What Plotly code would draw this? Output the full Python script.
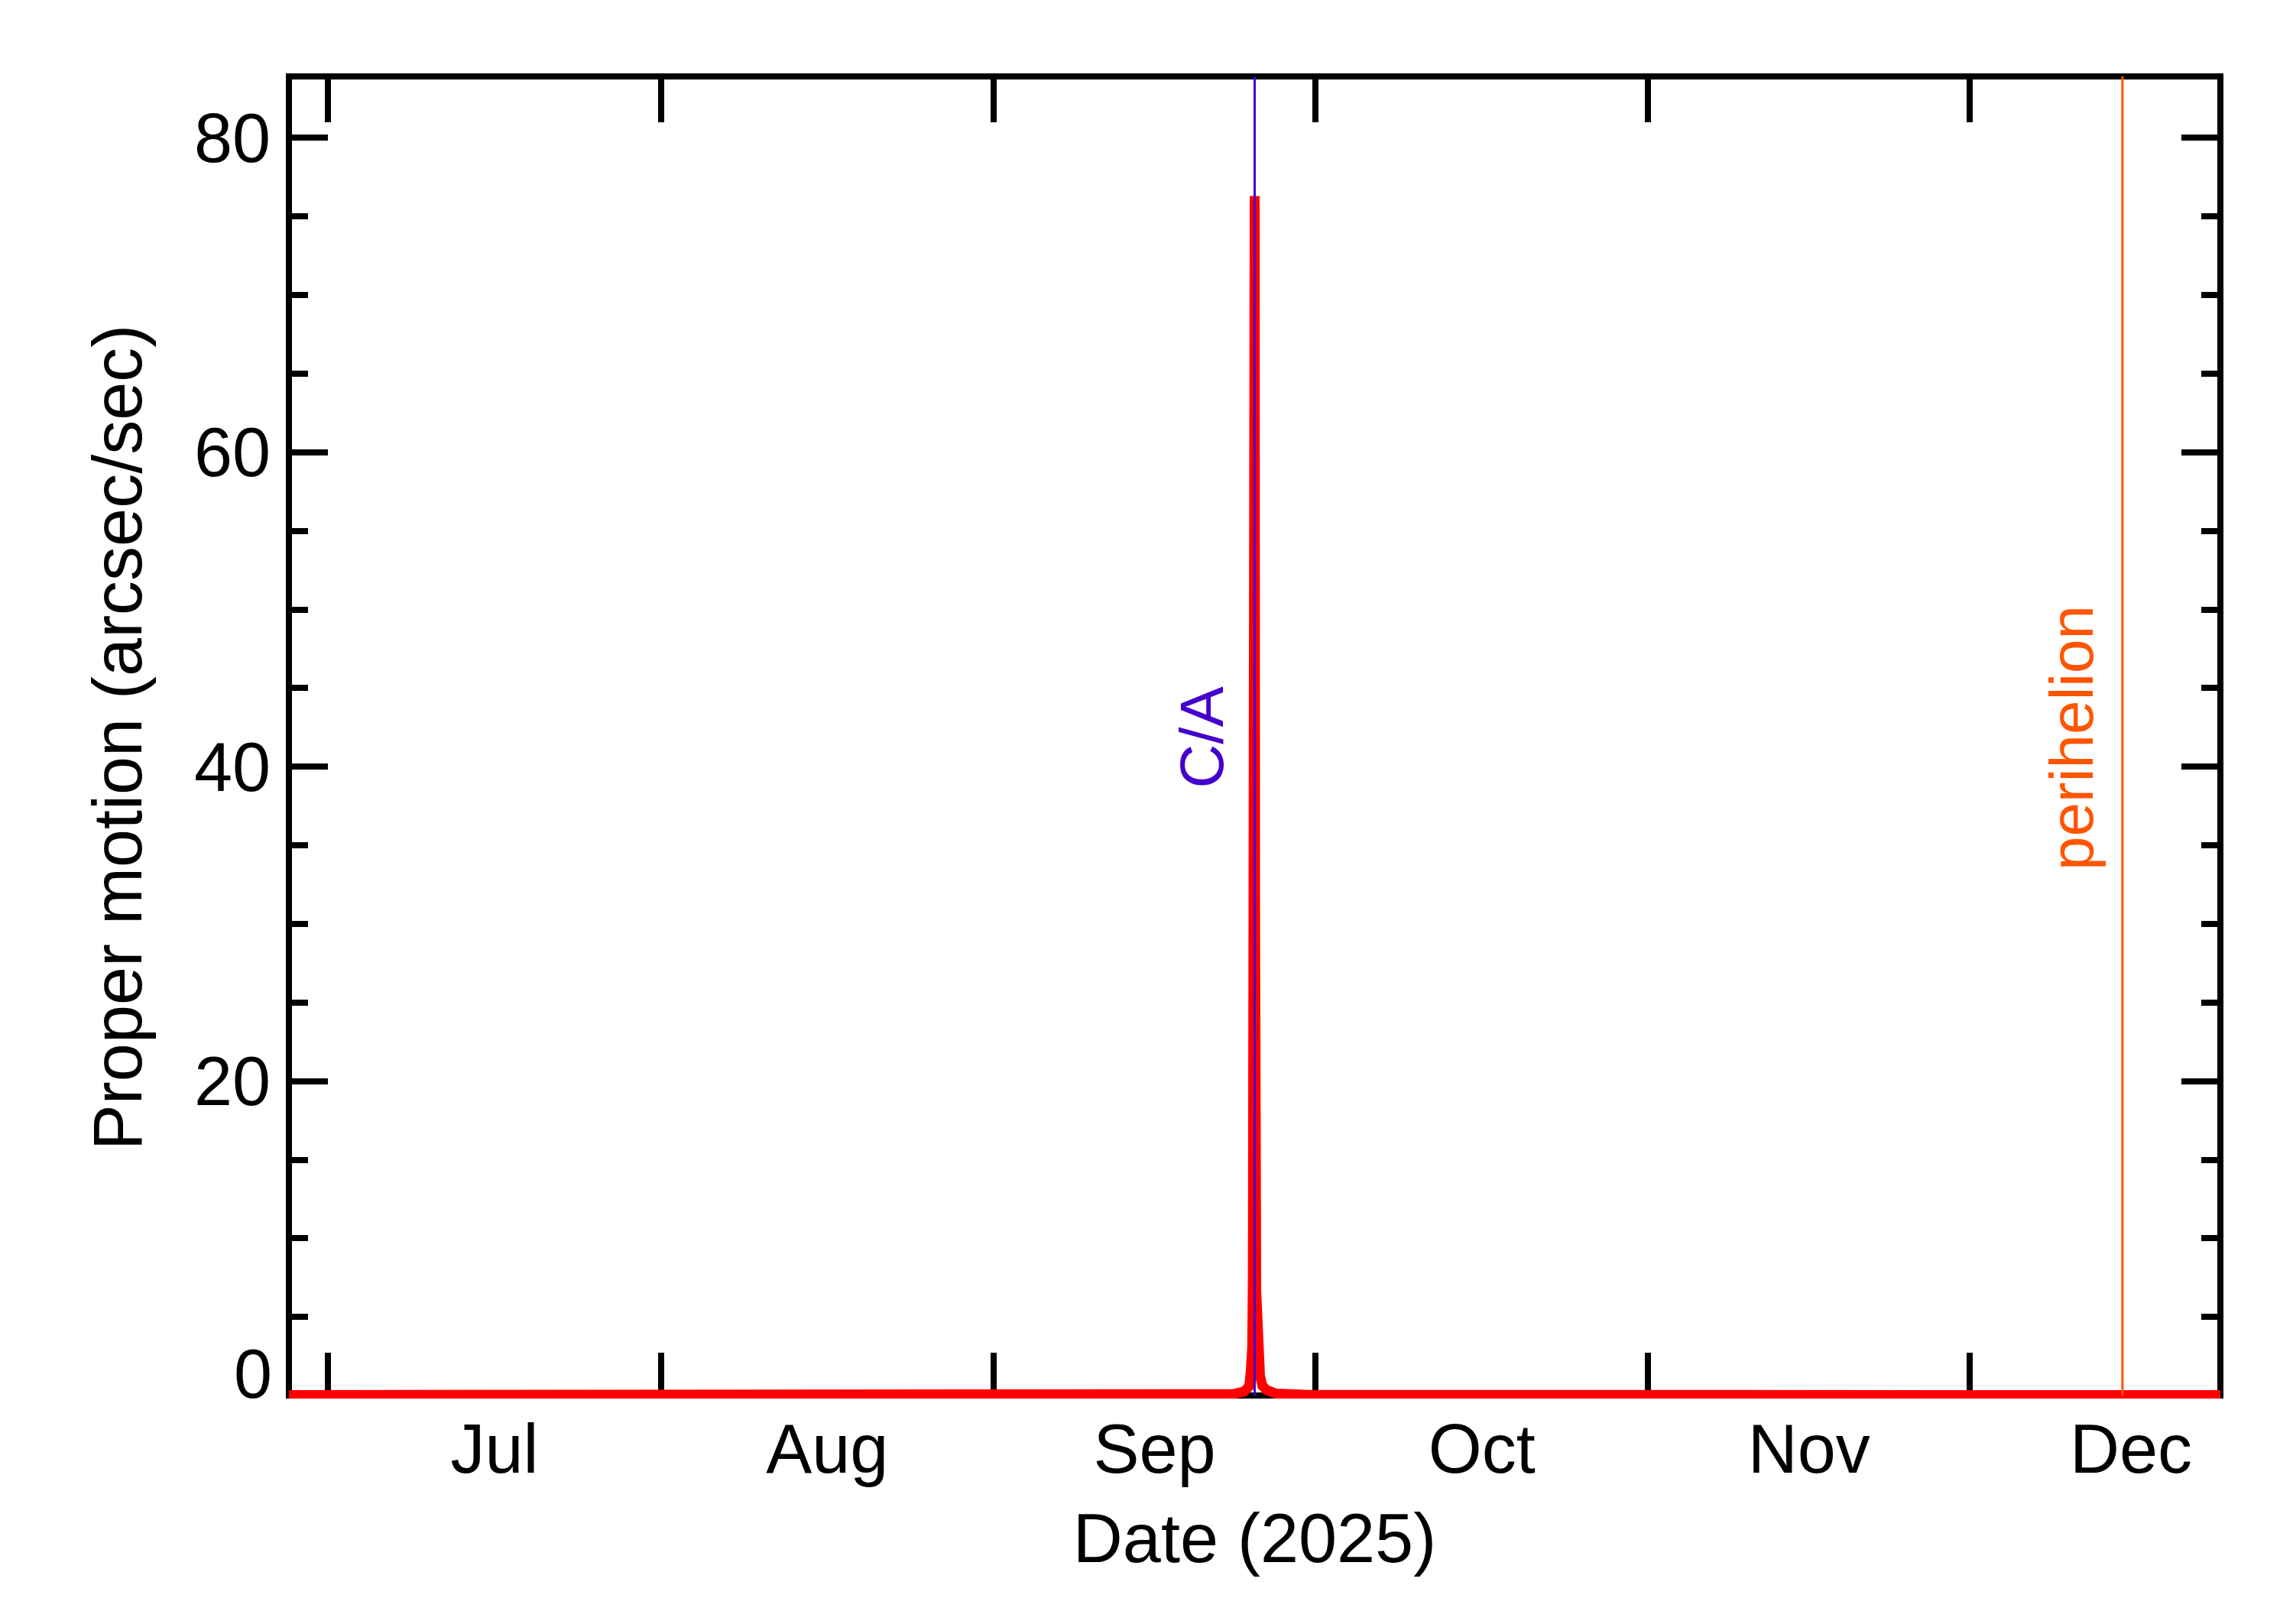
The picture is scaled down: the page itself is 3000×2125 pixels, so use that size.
import plotly.graph_objects as go

# Proper motion of the object around close approach (UTC sample times)
DATES = [
    "2025-06-27 08:00", "2025-07-15", "2025-08-01", "2025-08-15",
    "2025-09-01", "2025-09-10", "2025-09-18", "2025-09-22",
    "2025-09-23 08:00", "2025-09-24 08:00", "2025-09-24 20:00",
    "2025-09-24 23:30", "2025-09-25 02:30", "2025-09-25 04:00",
    "2025-09-25 06:30", "2025-09-25 08:00", "2025-09-25 09:00",
    "2025-09-25 11:30", "2025-09-25 14:20", "2025-09-25 20:00",
    "2025-09-26 01:00", "2025-09-26 11:00", "2025-09-27 08:00",
    "2025-09-30", "2025-10-10", "2025-10-20", "2025-11-01",
    "2025-11-15", "2025-12-01", "2025-12-15", "2025-12-24 08:00",
]
MOTION = [
    0.03, 0.03, 0.03, 0.03,
    0.03, 0.03, 0.04, 0.05,
    0.1, 0.25, 0.6,
    1.6, 3.1, 7.6,
    36.0, 76.3, 30.8,
    6.7, 2.6, 1.26,
    0.63, 0.35, 0.12,
    0.05, 0.04, 0.03, 0.03,
    0.03, 0.03, 0.03, 0.03,
]

CA_DATE = "2025-09-25 08:00"
PERIHELION_DATE = "2025-12-15 05:00"

X_RANGE = ["2025-06-27 08:00", "2025-12-24 08:00"]
Y_RANGE = [-0.19, 83.91]
Y_TICKS = [0, 20, 40, 60, 80]
Y_TICK_TEXT = ["", "20", "40", "60", "80"]

FONT = "Liberation Sans, Arial, Helvetica, sans-serif"
CA_COLOR = "#4400cc"
PERI_COLOR = "#ff5500"

fig = go.Figure()

fig.add_trace(go.Scatter(
    x=DATES,
    y=MOTION,
    mode="lines",
    line=dict(color="#ff0000", width=13),
    hoverinfo="skip",
    showlegend=False,
))

# paper coordinate of y = 0, the bottom edge of the frame
y_zero = (0 - Y_RANGE[0]) / (Y_RANGE[1] - Y_RANGE[0])

shapes = [
    # frame, under the curve so the red line covers its bottom edge
    dict(type="rect", xref="paper", yref="paper", x0=0, x1=1, y0=y_zero, y1=1,
         line=dict(color="black", width=8), layer="below"),
    dict(type="line", xref="x", yref="paper", x0=CA_DATE, x1=CA_DATE,
         y0=y_zero, y1=1, line=dict(color=CA_COLOR, width=3)),
    dict(type="line", xref="x", yref="paper", x0=PERIHELION_DATE, x1=PERIHELION_DATE,
         y0=y_zero, y1=1, line=dict(color=PERI_COLOR, width=3)),
]

annotations = [
    dict(text="C/A", x=CA_DATE, xref="x", y=0.5, yref="paper",
         textangle=-90, showarrow=False, xanchor="center", yanchor="middle",
         xshift=-70, font=dict(family=FONT, size=80, color=CA_COLOR)),
    dict(text="perihelion", x=PERIHELION_DATE, xref="x", y=0.5, yref="paper",
         textangle=-90, showarrow=False, xanchor="center", yanchor="middle",
         xshift=-67, font=dict(family=FONT, size=80, color=PERI_COLOR)),
    # the zero label sits a little above its tick, as in the original
    dict(text="0", x=0, xref="paper", y=0, yref="y", showarrow=False,
         xanchor="right", yanchor="middle", xshift=-20, yshift=28,
         font=dict(family=FONT, size=90, color="black")),
]

fig.update_layout(
    width=3000,
    height=2125,
    margin=dict(l=370, r=103, t=92, b=303),
    paper_bgcolor="white",
    plot_bgcolor="white",
    font=dict(family=FONT, size=90, color="black"),
    shapes=shapes,
    annotations=annotations,
    xaxis=dict(
        range=X_RANGE,
        type="date",
        tick0="2025-07-01",
        dtick="M1",
        tickformat="%b",
        ticklabelmode="period",
        ticks="inside",
        ticklen=60,
        tickwidth=8,
        tickcolor="black",
        showline=True,
        linecolor="rgba(0,0,0,0)",
        linewidth=1,
        mirror="ticks",
        showgrid=False,
        zeroline=False,
        layer="below traces",
        ticklabelstandoff=-12,
        title=dict(text="Date (2025)", standoff=35, font=dict(size=90)),
    ),
    yaxis=dict(
        range=Y_RANGE,
        tickmode="array",
        tickvals=Y_TICKS,
        ticktext=Y_TICK_TEXT,
        ticks="inside",
        ticklen=51,
        tickwidth=8,
        tickcolor="black",
        minor=dict(tickmode="linear", tick0=0, dtick=5, ticks="inside",
                   ticklen=25, tickwidth=8, tickcolor="black", showgrid=False),
        showline=True,
        linecolor="rgba(0,0,0,0)",
        linewidth=1,
        mirror="ticks",
        showgrid=False,
        zeroline=False,
        layer="below traces",
        ticklabelstandoff=5,
        title=dict(text="Proper motion (arcsec/sec)", standoff=38, font=dict(size=90)),
    ),
)

fig.write_html("out.html")
